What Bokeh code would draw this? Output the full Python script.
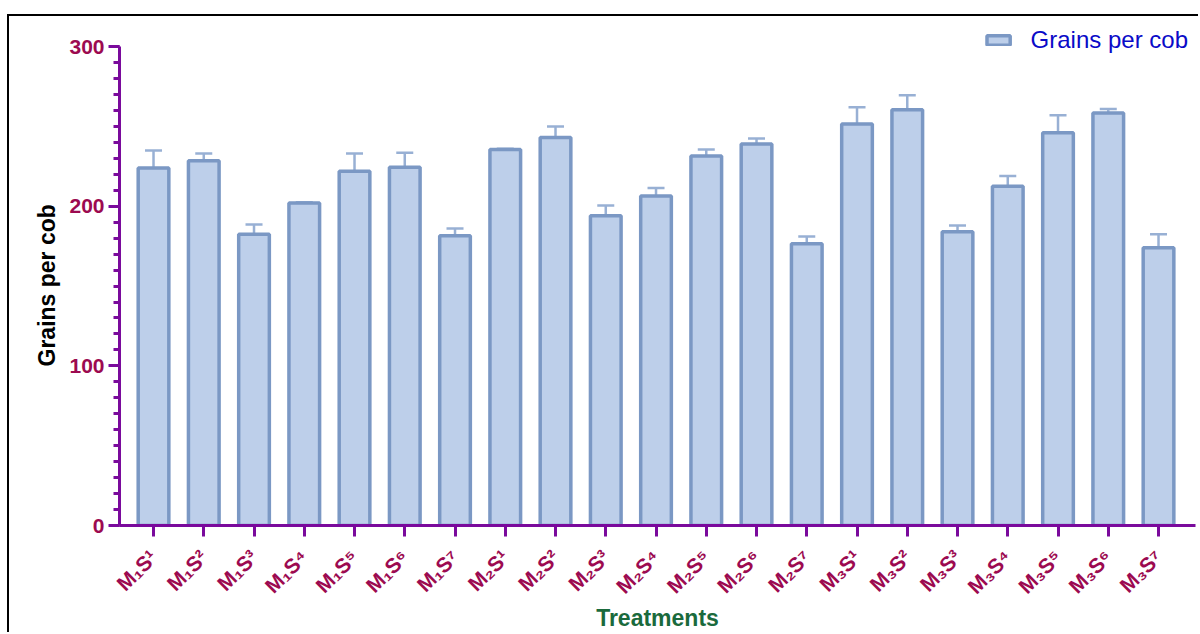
import math
from bokeh.plotting import figure
from bokeh.models import (ColumnDataSource, Whisker, TeeHead, SingleIntervalTicker,
                          FixedTicker, Range1d, Title)
from bokeh.embed import file_html
from bokeh.resources import INLINE

labels = ["M₁S¹", "M₁S²", "M₁S³", "M₁S⁴", "M₁S⁵", "M₁S⁶", "M₁S⁷",
          "M₂S¹", "M₂S²", "M₂S³", "M₂S⁴", "M₂S⁵", "M₂S⁶", "M₂S⁷",
          "M₃S¹", "M₃S²", "M₃S³", "M₃S⁴", "M₃S⁵", "M₃S⁶", "M₃S⁷"]
grains = [224, 228.5, 182.5, 202, 222, 224.5, 181.5,
          235.5, 243, 194, 206.5, 231.5, 239, 176.5,
          251.5, 260.5, 184, 212.5, 246, 258.5, 174]
se = [11, 4.5, 6, 0.5, 11, 9, 4.5,
      0.5, 7, 6.5, 5, 4, 3.5, 4.5,
      10.5, 9, 4, 6.5, 11, 2.5, 8.5]

FONT = "Liberation Sans"
PURPLE = "#7a0a9c"
CRIMSON = "#9c0a50"
FILL = "#bdcfea"
STROKE = "#7b98c4"
ERR = "#98b0d4"

xs = list(range(len(labels)))
src = ColumnDataSource(dict(x=xs, top=grains,
                            upper=[g + e for g, e in zip(grains, se)]))

p = figure(width=1191, height=618, output_backend="svg", toolbar_location=None,
           x_range=Range1d(-0.677, 20.736), y_range=Range1d(0, 317),
           min_border_left=110, min_border_right=5, min_border_top=3,
           min_border_bottom=108)
p.styles = {"border-left": "2px solid black", "border-top": "2px solid black",
            "margin-left": "7px", "margin-top": "14px"}
p.outline_line_color = None
p.xgrid.visible = False
p.ygrid.visible = False
p.background_fill_color = "white"

w = Whisker(base="x", upper="upper", lower="top", source=src,
            line_color=ERR, line_width=2.5,
            upper_head=TeeHead(size=17, line_color=ERR, line_width=2.5),
            lower_head=None)
p.add_layout(w)

p.vbar(x="x", top="top", width=0.61, bottom=0, source=src,
       fill_color=FILL, line_color=STROKE, line_width=3.5,
       legend_label="Grains per cob")

# x axis
xa = p.xaxis[0]
xa.ticker = FixedTicker(ticks=xs)
xa.major_label_overrides = {i: l for i, l in zip(xs, labels)}
xa.axis_line_color = PURPLE
xa.axis_line_width = 3
xa.major_tick_line_color = PURPLE
xa.major_tick_line_width = 3
xa.major_tick_out = 11
xa.major_tick_in = 0
xa.minor_tick_line_color = None
xa.major_label_orientation = math.pi / 4
xa.major_label_text_color = CRIMSON
xa.major_label_text_font = FONT
xa.major_label_text_font_style = "bold"
xa.major_label_text_font_size = "21px"
xa.major_label_standoff = 17
xa.axis_label = "Treatments"
xa.axis_label_text_font = FONT
xa.axis_label_text_font_style = "bold"
xa.axis_label_text_font_size = "23px"
xa.axis_label_text_color = "#1a6a3c"
xa.axis_label_standoff = -4

# y axis
ya = p.yaxis[0]
ya.ticker = SingleIntervalTicker(interval=100, num_minor_ticks=10)
ya.bounds = (0, 300)
ya.axis_line_color = PURPLE
ya.axis_line_width = 3
ya.major_tick_line_color = PURPLE
ya.major_tick_line_width = 3
ya.major_tick_out = 11
ya.major_tick_in = 0
ya.minor_tick_line_color = PURPLE
ya.minor_tick_line_width = 3
ya.minor_tick_out = 6
ya.minor_tick_in = 0
ya.major_label_text_color = CRIMSON
ya.major_label_text_font = FONT
ya.major_label_text_font_style = "bold"
ya.major_label_text_font_size = "21px"
ya.major_label_standoff = 4

ytitle = Title(text="Grains per cob", align="left", offset=159,
               text_font=FONT, text_font_size="23px", text_font_style="bold",
               text_color="black", standoff=13)
p.add_layout(ytitle, "left")

lg = p.legend[0]
lg.location = "top_right"
lg.border_line_color = None
lg.background_fill_alpha = 0
lg.margin = 7
lg.padding = 2
lg.glyph_width = 29
lg.glyph_height = 12
lg.label_standoff = 18
lg.label_text_font = FONT
lg.label_text_font_size = "24px"
lg.label_text_color = "#0a0ac8"

open("out.html", "w").write(file_html(p, INLINE))
